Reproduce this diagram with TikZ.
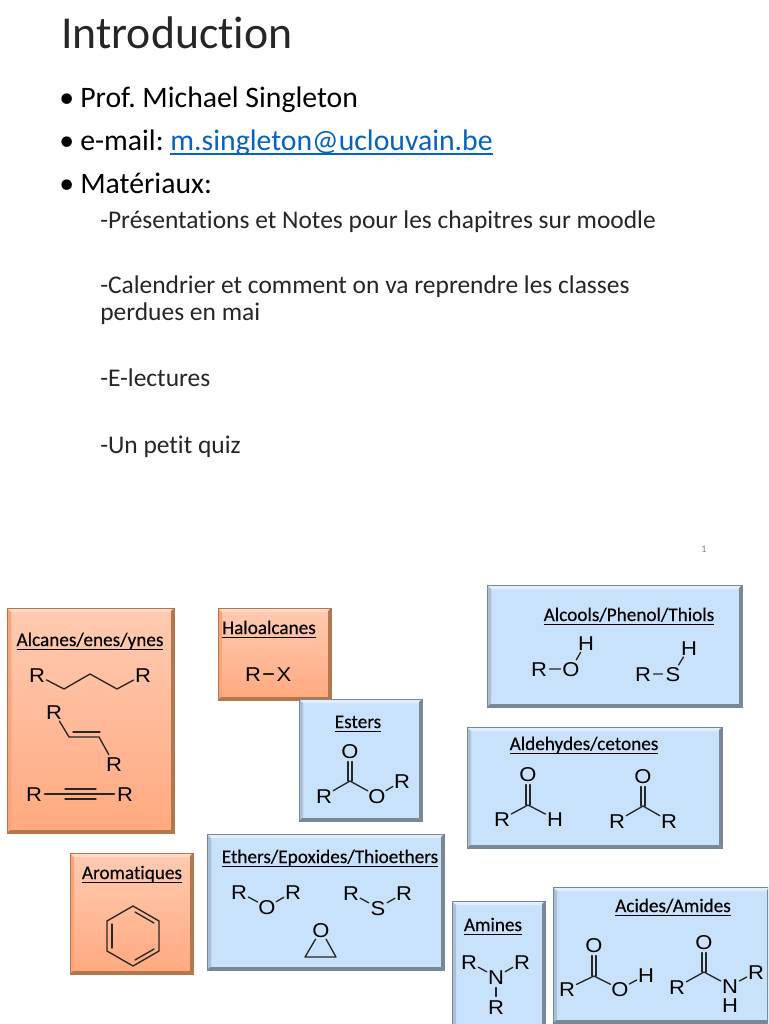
\documentclass[tikz,border=0pt]{standalone}
\usepackage{fontspec}
\setmainfont[Ligatures=NoCommon]{Carlito}
\newfontfamily\chemfont[FakeStretch=1.1]{Liberation Sans}
\newfontfamily\headfont[Ligatures=NoCommon,FakeBold=0.35]{Carlito}
\usetikzlibrary{calc}
\frenchspacing
\definecolor{linkblue}{HTML}{0563C1}
\definecolor{inktext}{HTML}{262626}
\definecolor{orangetop}{HTML}{FFCBB2}
\definecolor{orangebot}{HTML}{FFA97F}
\definecolor{bluefill}{HTML}{C9E2FB}
\newcommand{\atm}[1]{\makebox[0pt]{\raisebox{-5.35pt}[0pt][0pt]{#1}}}
\newcommand{\Atom}[3]{\node[atom] (#1) at (#2) {\atm{#3}};}
\newcommand{\Vtx}[2]{\coordinate (#1) at (#2);}
\newcommand{\Ul}[3]{\setbox0=\hbox{#3}\makebox[0pt][l]{\raisebox{#1}{\rule{\wd0}{#2}}}\box0}
% bevelled panel: x1 y1 x2 y2 fillstyle topedge leftedge rightedge/bottomedge
\newcommand{\Panel}[8]{%
  \fill[#5] (#1,#2) rectangle (#3,#4);
  \fill[#6] (#1,#2) -- (#3,#2) -- (#3-4,#2+4) -- (#1+4,#2+4) -- cycle;
  \fill[#7] (#1,#2) -- (#1+4,#2+4) -- (#1+4,#4-4) -- (#1,#4) -- cycle;
  \fill[#8] (#3,#2) -- (#3,#4) -- (#3-3,#4-3) -- (#3-3,#2+3) -- cycle;
  \fill[#8] (#1,#4) -- (#3,#4) -- (#3-3,#4-3) -- (#1+3,#4-3) -- cycle;
  \draw[line width=0.4pt,#8] (#1,#2) rectangle (#3,#4);
}
\newcommand{\OrangePanel}[4]{\Panel{#1}{#2}{#3}{#4}{top color=orangetop,bottom color=orangebot}{orangetop!70!white}{orangebot!90!brown}{orangebot!50!brown!80!black}}
\newcommand{\BluePanel}[4]{\Panel{#1}{#2}{#3}{#4}{bluefill}{bluefill!55!white}{bluefill!85!black}{bluefill!60!black}}
\newcommand{\Head}[3]{\node[heading] (#1) at (#2) {\Ul{-2.8pt}{0.85pt}{#3}};}
\tikzset{
  x=0.75pt,y=-0.75pt,
  atom/.style={circle,inner sep=0pt,minimum size=15.5pt,font=\chemfont\fontsize{15}{15}\selectfont,text=black},
  bond/.style={line width=1pt,black!85,line cap=round},
  heading/.style={anchor=base,font=\headfont\fontsize{14.4}{16}\selectfont,text=black,inner sep=0pt},
  title/.style={anchor=base west,inner sep=0pt,font=\fontsize{34.3}{38}\selectfont,text=inktext},
  lvlone/.style={anchor=base west,inner sep=0pt,font=\fontsize{22.3}{26}\selectfont,text=black},
  lvltwo/.style={anchor=base west,inner sep=0pt,font=\fontsize{19.1}{22}\selectfont,text=inktext},
}
\begin{document}
\begin{tikzpicture}
\clip (0,0) rectangle (768,1024);
\fill[white] (0,0) rectangle (768,1024);
% --- text
\node[title] (ttl) at (61,49) {Introduction};
\node[lvlone] (b1) at (59,108) {•};
\node[lvlone] (t1) at (80,108) {Prof. Michael Singleton};
\node[lvlone] (b2) at (59,150.5) {•};
\node[lvlone] (t2) at (80,150.5) {e-mail: \textcolor{linkblue}{\Ul{-3pt}{0.9pt}{m.singleton@uclouvain.be}}};
\node[lvlone] (b3) at (59,193.5) {•};
\node[lvlone] (t3) at (80,193.5) {Matériaux:};
\node[lvltwo] (s1) at (100,228) {-Présentations et Notes pour les chapitres sur moodle};
\node[lvltwo] (s2) at (100,293) {-Calendrier et comment on va reprendre les classes};
\node[lvltwo] (s2b) at (100,320) {perdues en mai};
\node[lvltwo] (s3) at (100,386) {-E-lectures};
\node[lvltwo] (s4) at (100,453) {-Un petit quiz};
\node[inner sep=0pt,font=\fontsize{7.5}{9}\selectfont,text=black!50] (pg) at (704,549) {1};
% --- panels
\OrangePanel{7}{608}{174}{833}
\OrangePanel{218}{608}{331}{700}
\OrangePanel{70}{853}{193}{974}
\BluePanel{299}{699}{422}{821}
\BluePanel{207}{834}{444}{970}
\BluePanel{487}{585}{742}{707}
\BluePanel{467}{727}{722}{848}
\BluePanel{452}{901}{545}{1034}
\BluePanel{553}{887}{770}{1023}
% --- headings
\Head{hAlc}{90,646}{Alcanes/enes/ynes}
\Head{hHal}{269,634}{Haloalcanes}
\Head{hArom}{132,879}{Aromatiques}
\Head{hEst}{358,728}{Esters}
\Head{hEth}{330,863}{Ethers/Epoxides/Thioethers}
\Head{hOH}{629,621}{Alcools/Phenol/Thiols}
\Head{hCO}{584,750}{Aldehydes/cetones}
\Head{hAm}{493,931}{Amines}
\Head{hAc}{673,912}{Acides/Amides}
% --- alkane
\Atom{aR1}{37,675}{R}\Atom{aR2}{143,675}{R}
\Vtx{a1}{64,689}\Vtx{a2}{90,674}\Vtx{a3}{117,689}
\draw[bond,line join=round] (aR1) -- (a1) -- (a2) -- (a3) -- (aR2);
% --- alkene
\Atom{eR1}{54,712}{R}\Atom{eR2}{114,764}{R}
\Vtx{e1}{69,737}\Vtx{e2}{99,737}
\draw[bond,line join=round] (eR1) -- (e1) -- (e2) -- (eR2);
\draw[bond] ($(e1)+(4,-5)$) -- ($(e2)+(1,-5)$);
% --- alkyne
\Atom{yR1}{34,794}{R}\Atom{yR2}{125,794}{R}
\Vtx{y1}{65,794}\Vtx{y2}{96,794}
\draw[bond] (yR1) -- (yR2);
\draw[bond] ($(y1)+(0,-5)$) -- ($(y2)+(0,-5)$);
\draw[bond] ($(y1)+(0,5)$) -- ($(y2)+(0,5)$);
% --- haloalkane
\Atom{hR}{253,674}{R}\Atom{hX}{284,674}{X}
\draw[bond] (hR) -- (hX);
% --- ester
\Atom{sO1}{350,751}{O}\Vtx{sC}{350,781}\Atom{sR1}{324,796}{R}\Atom{sO2}{377,796}{O}\Atom{sR2}{402,781}{R}
\draw[bond] (sR1) -- (sC) -- (sO2) -- (sR2);
\draw[bond] ($(sO1.south)+(-2,0)$) -- ($(sC)+(-2,0)$);
\draw[bond] ($(sO1.south)+(2,0)$) -- ($(sC)+(2,0)$);
% --- ethers
\Atom{tR1}{239,892}{R}\Atom{tO}{267,907}{O}\Atom{tR2}{293,892}{R}
\draw[bond] (tR1) -- (tO) -- (tR2);
\Atom{uR1}{351,893}{R}\Atom{uS}{378,908}{S}\Atom{uR2}{404,893}{R}
\draw[bond] (uR1) -- (uS) -- (uR2);
\Atom{pO}{321,930}{O}\Vtx{p1}{305,957}\Vtx{p2}{336,957}
\draw[bond,line join=round] (pO) -- (p1) -- (p2) -- (pO);
% --- alcohol
\Atom{oR}{539,669}{R}\Atom{oO}{571,669}{O}\Atom{oH}{586,643}{H}
\draw[bond] (oR) -- (oO) -- (oH);
% --- thiol
\Atom{xR}{643,674}{R}\Atom{xS}{673,674}{S}\Atom{xH}{689,648}{H}
\draw[bond] (xR) -- (xS) -- (xH);
% --- aldehyde
\Atom{dO}{528,774}{O}\Vtx{dC}{528,805}\Atom{dR}{502,819}{R}\Atom{dH}{555,819}{H}
\draw[bond] (dR) -- (dC) -- (dH);
\draw[bond] ($(dO.south)+(-2,0)$) -- ($(dC)+(-2,0)$);
\draw[bond] ($(dO.south)+(2,0)$) -- ($(dC)+(2,0)$);
% --- ketone
\Atom{kO}{643,776}{O}\Vtx{kC}{643,806}\Atom{kR1}{617,821}{R}\Atom{kR2}{669,821}{R}
\draw[bond] (kR1) -- (kC) -- (kR2);
\draw[bond] ($(kO.south)+(-2,0)$) -- ($(kC)+(-2,0)$);
\draw[bond] ($(kO.south)+(2,0)$) -- ($(kC)+(2,0)$);
% --- amine
\Atom{nR1}{469,962}{R}\Atom{nN}{496,977}{N}\Atom{nR2}{522,962}{R}\Atom{nR3}{496,1007}{R}
\draw[bond] (nR1) -- (nN) -- (nR2);
\draw[bond] (nN) -- (nR3);
% --- acid
\Atom{cO1}{594,945}{O}\Vtx{cC}{594,976}\Atom{cR}{567,989}{R}\Atom{cO2}{620,989}{O}\Atom{cH}{646,975}{H}
\draw[bond] (cR) -- (cC) -- (cO2) -- (cH);
\draw[bond] ($(cO1.south)+(-2,0)$) -- ($(cC)+(-2,0)$);
\draw[bond] ($(cO1.south)+(2,0)$) -- ($(cC)+(2,0)$);
% --- amide
\Atom{mO}{704,942}{O}\Vtx{mC}{704,972}\Atom{mR1}{677,987}{R}\Atom{mN}{730,986}{N}\Atom{mH}{730,1005}{H}\Atom{mR2}{756,972}{R}
\draw[bond] (mR1) -- (mC) -- (mN) -- (mR2);
\draw[bond] ($(mO.south)+(-2,0)$) -- ($(mC)+(-2,0)$);
\draw[bond] ($(mO.south)+(2,0)$) -- ($(mC)+(2,0)$);
% --- benzene
\Vtx{b1v}{133,906}\Vtx{b2v}{159,921}\Vtx{b3v}{159,951}\Vtx{b4v}{133,966}\Vtx{b5v}{107,951}\Vtx{b6v}{107,921}
\draw[bond,line join=round] (b1v) -- (b2v) -- (b3v) -- (b4v) -- (b5v) -- (b6v) -- cycle;
\draw[bond] (135,912) -- (154,923);
\draw[bond] (154,949) -- (135,960);
\draw[bond] (112,924) -- (112,948);
\end{tikzpicture}
\end{document}
